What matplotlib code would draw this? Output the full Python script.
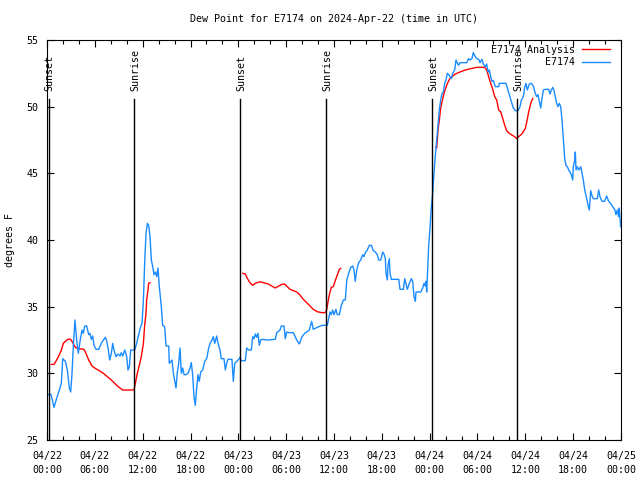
import matplotlib
matplotlib.use("Agg")
import matplotlib.pyplot as plt
import numpy as np
from matplotlib.ticker import FixedLocator, MultipleLocator, FuncFormatter

# hours after 2024-04-22 00:00 UTC
obs_hours = [
    0.04, 0.46, 0.63, 0.88, 1.2, 1.55, 1.8, 1.97, 2.3, 2.55, 2.8, 2.97, 3.14, 3.3, 3.51,
    3.72, 3.93, 4.14, 4.39, 4.55, 4.73, 4.98, 5.23, 5.39, 5.56, 5.73, 5.9, 6.15, 6.48,
    6.81, 7.07, 7.32, 7.49, 7.7, 7.86, 8.07, 8.24, 8.4, 8.66, 8.9, 9.16, 9.32, 9.5, 9.75,
    10.0, 10.16, 10.33, 10.5, 11.0, 11.25, 11.5, 11.75, 11.92, 12.09, 12.25, 12.42,
    12.59, 12.75, 12.92, 13.09, 13.26, 13.42, 13.59, 13.76, 13.92, 14.09, 14.34, 14.51,
    14.76, 14.93, 15.27, 15.34, 15.68, 15.85, 16.0, 16.18, 16.35, 16.52, 16.68, 16.85,
    17.02, 17.19, 17.44, 17.69, 17.94, 18.1, 18.27, 18.44, 18.6, 18.78, 18.94, 19.1,
    19.28, 19.53, 19.78, 20.03, 20.28, 20.45, 20.7, 20.86, 21.04, 21.29, 21.45, 21.7,
    21.86, 22.2, 22.37, 22.54, 22.7, 23.2, 23.37, 23.55, 23.8, 24.05, 24.2, 24.37,
    24.87, 25.05, 25.3, 25.63, 25.8, 25.97, 26.13, 26.3, 26.47, 26.63, 26.8, 27.05,
    27.56, 28.64, 28.81, 29.23, 29.39, 29.73, 29.89, 30.07, 30.32, 30.9, 31.32, 31.65,
    31.99, 32.32, 32.58, 32.9, 33.2, 33.4, 33.74, 34.08, 34.5, 34.9, 35.16, 35.33, 35.5,
    35.66, 35.84, 36.0, 36.25, 36.41, 36.67, 36.92, 37.17, 37.42, 37.6, 37.84, 38.1,
    38.35, 38.5, 38.67, 38.85, 39.1, 39.35, 39.6, 39.76, 39.93, 40.18, 40.43, 40.68,
    40.93, 41.18, 41.43, 41.61, 41.86, 42.11, 42.27, 42.44, 42.52, 42.69, 42.77, 42.94,
    43.03, 43.19, 44.12, 44.28, 44.7, 44.87, 45.03, 45.2, 45.45, 45.7, 45.87, 46.04,
    46.2, 46.29, 46.88, 47.13, 47.29, 47.45, 47.54, 47.63, 47.79, 47.88, 48.04, 48.2,
    48.38, 48.54, 48.7, 48.88, 49.05, 49.21, 49.38, 49.55, 49.71, 49.89, 50.05, 50.21,
    50.39, 50.55, 50.72, 50.89, 51.14, 51.3, 51.47, 51.64, 51.8, 52.64, 52.89, 53.06,
    53.3, 53.47, 53.72, 53.9, 54.15, 54.31, 54.56, 54.73, 54.98, 55.15, 55.32, 55.48,
    55.66, 55.82, 55.99, 56.24, 56.66, 56.74, 57.58, 57.74, 57.99, 58.24, 58.49, 58.74,
    59.08, 59.33, 59.5, 59.75, 59.93, 60.08, 60.25, 60.5, 60.75, 61.0, 61.25, 61.43,
    61.59, 61.76, 61.93, 62.09, 62.26, 62.51, 62.93, 63.1, 63.26, 63.44, 63.6, 63.76,
    63.93, 64.1, 64.26, 64.44, 64.6, 64.77, 64.94, 65.1, 65.27, 65.44, 65.6, 65.77,
    65.94, 66.02, 66.2, 66.27, 66.36, 66.52, 66.7, 66.95, 67.12, 67.27, 67.45, 67.7,
    67.87, 68.03, 68.2, 68.37, 68.53, 69.03, 69.2, 69.36, 69.62, 69.95, 70.2, 70.45,
    70.7, 70.95, 71.2, 71.37, 71.53, 71.7, 71.78, 71.96,
]
obs_dewpoint = [
    28.4, 28.45, 28.1, 27.45, 28.1, 28.75, 29.25, 31.1, 30.9, 30.25, 28.9, 28.6, 30.0, 32.0, 34.0,
    32.5, 31.5, 32.4, 33.25, 33.0, 33.55, 33.55, 32.9, 33.0, 32.55, 32.8, 32.1, 31.8, 31.8,
    32.25, 32.5, 32.7, 32.4, 31.75, 31.0, 31.5, 32.25, 31.75, 31.25, 31.45, 31.3, 31.55, 31.3, 31.75,
    31.25, 30.25, 30.5, 31.75, 31.75, 32.25, 32.9, 33.5, 33.75, 35.5, 38.25, 40.5,
    41.25, 41.1, 40.25, 38.5, 38.0, 37.4, 37.6, 37.25, 37.9, 36.5, 35.0, 33.6,
    33.5, 32.05, 32.05, 30.75, 31.0, 30.0, 29.5, 28.9, 30.1, 30.75, 31.9, 30.0,
    30.4, 29.9, 29.9, 30.0, 30.4, 30.8, 29.9, 28.25, 27.6, 28.9, 29.9, 29.4,
    30.1, 30.25, 30.9, 31.1, 31.9, 32.25, 32.5, 32.75, 32.25, 32.8, 32.25, 31.75,
    31.1, 31.1, 30.25, 30.75, 31.05, 31.05, 29.4, 30.75, 30.9, 31.05, 31.2, 30.95,
    30.95, 31.9, 31.75, 31.75, 32.75, 32.6, 32.95, 32.7, 33.0, 32.1, 32.5, 32.55,
    32.5, 32.55, 33.05, 33.25, 33.55, 33.55, 32.6, 33.1, 33.05, 33.05, 32.5, 32.2,
    32.75, 33.0, 33.1, 33.25, 33.9, 33.3, 33.4, 33.5, 33.6, 33.6, 33.6, 34.1, 34.6,
    34.4, 34.75, 34.4, 34.8, 34.4, 34.4, 35.1, 35.5, 35.5, 37.0, 37.5, 37.95,
    38.05, 37.75, 36.9, 37.75, 38.3, 38.5, 38.9, 38.75, 39.05, 39.25, 39.6, 39.6,
    39.2, 39.1, 38.9, 38.5, 38.5, 39.1, 38.95, 38.6, 37.5, 37.0, 38.1, 38.6,
    37.5, 37.05, 37.05, 36.3, 36.3, 37.1, 36.7, 36.3, 36.75, 37.1, 36.9, 35.75,
    35.4, 36.1, 36.1, 36.4, 36.75, 36.55, 36.9, 36.1, 38.25, 39.6, 40.9, 42.4,
    43.5, 45.0, 46.25, 47.5, 48.75, 49.75, 50.5, 51.0, 51.1, 51.75, 52.0, 52.5,
    52.4, 52.25, 52.1, 52.5, 52.75, 53.5, 53.25, 53.1, 53.3, 53.3, 53.6, 53.5,
    53.6, 54.05, 53.75, 53.6, 53.55, 53.3, 53.55, 53.2, 53.0, 53.2, 52.6, 52.75,
    52.25, 51.9, 51.95, 51.5, 51.5, 51.75, 51.75, 51.4, 50.9, 50.4, 49.9, 49.7,
    49.7, 50.0, 50.5, 50.75, 51.5, 51.75, 51.25, 51.7, 51.75, 51.55, 51.0, 50.75,
    50.9, 50.4, 49.9, 50.6, 51.25, 51.3, 51.3, 50.95, 51.25, 51.45, 51.2, 50.75,
    50.25, 50.0, 50.25, 50.0, 49.0, 47.5, 46.1, 45.6, 45.5, 45.25, 45.1, 44.9,
    44.5, 45.5, 46.0, 46.6, 45.25, 45.5, 45.25, 45.5, 45.0, 44.5, 43.75, 43.1,
    42.6, 42.25, 43.7, 43.3, 43.1, 43.1, 43.75, 43.25, 42.9, 42.9, 43.3, 42.9,
    42.75, 42.5, 42.3, 41.9, 42.25, 41.75, 42.4, 41.0,
]

# analysis runs from sunset to a couple of hours after sunrise; nan = gap
ana_hours = [
    0.54, 0.88, 1.21, 1.55, 1.8, 2.05, 2.38, 2.72, 2.97, 3.22, 3.56, 3.81, 4.64, 4.89,
    5.23, 5.64, 6.06, 6.56, 7.07, 7.57, 8.07, 8.57, 9.07, 9.5, 10.0, 10.91, 11.08,
    11.33, 11.58, 11.83, 12.09, 12.25, 12.42, 12.5, 12.67, 12.75, 12.92,
    np.nan,
    24.55, 24.88, 25.13, 25.46, 25.8, 26.13, 26.72, 27.13, 27.76, 28.18, 28.64, 29.06,
    29.48, 29.81, 30.14, 30.48, 30.9, 31.32, 31.74, 32.15, 32.58, 32.99, 33.4, 33.9,
    34.5, 34.91, 35.09, 35.25, 35.41, 35.66, 35.91, 36.16, 36.41, 36.67, 36.84,
    np.nan,
    48.8, 48.88, 48.96, 49.05, 49.21, 49.38, 49.55, 49.8, 50.14, 50.47, 50.8, 51.22,
    51.8, 52.47, 53.15, 53.9, 54.9, 55.15, 55.4, 55.66, 55.91, 56.16, 56.41, 56.66,
    56.91, 57.16, 57.41, 57.66, 57.99, 58.32, 58.66, 58.91, 59.16, 59.5, 59.75, 60.0,
    60.18, 60.43, 60.68, 60.93,
]
ana_dewpoint = [
    30.67, 30.67, 31.0, 31.4, 31.75, 32.25, 32.45, 32.57, 32.55, 32.3, 31.95, 31.87, 31.8, 31.5,
    31.0, 30.55, 30.37, 30.2, 30.0, 29.75, 29.5, 29.2, 28.93, 28.75, 28.75, 28.75, 29.25,
    30.0, 30.6, 31.25, 32.25, 33.6, 34.5, 35.5, 36.25, 36.75, 36.8,
    np.nan,
    37.5, 37.45, 37.12, 36.8, 36.6, 36.75, 36.87, 36.8, 36.7, 36.55, 36.4, 36.55,
    36.67, 36.7, 36.5, 36.3, 36.2, 36.1, 35.87, 35.55, 35.3, 35.05, 34.8, 34.62,
    34.55, 34.55, 34.8, 35.37, 35.87, 36.45, 36.5, 36.95, 37.37, 37.8, 37.87,
    np.nan,
    47.0, 46.9, 47.5, 48.25, 49.0, 49.87, 50.37, 51.0, 51.62, 52.05, 52.25, 52.45,
    52.6, 52.75, 52.85, 52.95, 52.95, 52.75, 52.25, 51.75, 51.3, 50.75, 50.5, 49.75,
    49.62, 49.12, 48.62, 48.2, 48.0, 47.87, 47.75, 47.6, 47.75, 47.92, 48.12, 48.37,
    48.87, 49.62, 50.25, 50.62,
]

event_hours = [0.2, 10.95, 24.25, 34.96, 48.33, 59.0]
event_labels = ["Sunset", "Sunrise", "Sunset", "Sunrise", "Sunset", "Sunrise"]

FONT = "DejaVu Sans Mono"
FS = 7.2

fig = plt.figure(figsize=(6.4, 4.8), dpi=100)
ax = fig.add_axes([47 / 640, 40 / 480, 574 / 640, 400 / 480])

ax.plot(ana_hours, ana_dewpoint, color="#ff0000", lw=1.0, label="E7174 Analysis")
ax.plot(obs_hours, obs_dewpoint, color="#1a8cff", lw=1.0, label="E7174")

for h, lab in zip(event_hours, event_labels):
    ax.plot([h, h], [25, 50.58], color="black", lw=1.0)
    ax.text(h + 0.15, 51.15, lab, rotation=90, ha="center", va="bottom",
            family=FONT, fontsize=FS)

ax.set_xlim(0, 72)
ax.set_ylim(25, 55)
ax.xaxis.set_major_locator(FixedLocator(np.arange(0, 73, 6)))
ax.xaxis.set_minor_locator(MultipleLocator(2))
ax.yaxis.set_major_locator(FixedLocator(np.arange(25, 56, 5)))


def fmt_hour(h, pos):
    day = 22 + int(h // 24)
    return "04/%02d\n%02d:00" % (day, int(h % 24))


ax.xaxis.set_major_formatter(FuncFormatter(fmt_hour))
ax.tick_params(which="both", direction="in", top=True, right=True, labelsize=FS)
ax.tick_params(which="major", length=5, width=0.8)
ax.tick_params(which="minor", length=3, width=0.8)
ax.tick_params(axis="x", pad=8)
ax.tick_params(axis="y", pad=6)
for lbl in ax.get_xticklabels() + ax.get_yticklabels():
    lbl.set_family(FONT)
for lbl in ax.get_xticklabels():
    lbl.set_linespacing(1.45)

leg = ax.legend(loc="upper right", bbox_to_anchor=(0.98, 0.988), frameon=False,
                markerfirst=False, borderaxespad=0, borderpad=0, handlelength=2.8,
                handletextpad=0.7, labelspacing=0.25, prop={"family": FONT, "size": FS})

fig.text(334 / 640, 1 - 19 / 480, "Dew Point for E7174 on 2024-Apr-22 (time in UTC)",
         ha="center", va="center", family=FONT, fontsize=FS)
fig.text(10 / 640, 0.5, "degrees F", rotation=90, ha="center", va="center",
         family=FONT, fontsize=FS)

fig.savefig("out.png", dpi=100)
